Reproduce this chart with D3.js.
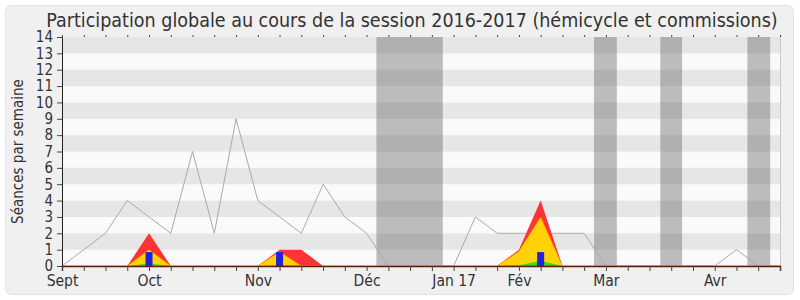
<!DOCTYPE html>
<html lang="fr">
<head>
<meta charset="UTF-8">
<title>Participation globale</title>
<script src="https://cdn.jsdelivr.net/npm/d3@7"></script>
<style>
  body { margin: 0; background: #fff; }
  text { font-family: "DejaVu Sans Condensed", "DejaVu Sans", sans-serif; font-stretch: condensed; fill: #333; }
</style>
</head>
<body>
<script>
// one value per week, from the first week of Sept 2016
const presence = [0,1,2,4,3,2,7,2,9,4,3,2,5,3,2,0,0,0,0,3,2,2,2,2,2,0,0,0,0,0,0,1,0,0]
const total    = [0,0,0,0,2,0,0,0,0,0,1,1,0,0,0,0,0,0,0,0,0,1,4,0,0,0,0,0,0,0,0,0,0,0]
const hemicycle= [0,0,0,0,1,0,0,0,0,0,0.87,0,0,0,0,0,0,0,0,0,0,0.9,3,0,0,0,0,0,0,0,0,0,0,0]
const commissions = [0,0,0,0,0.15,0,0,0,0,0,0.05,0.05,0,0,0,0,0,0,0,0,0,0.05,0.3,0,0,0,0,0,0,0,0,0,0,0]
const questions = [0,0,0,0,0.85,0,0,0,0,0,0.85,0,0,0,0,0,0,0,0,0,0,0,0.85,0,0,0,0,0,0,0,0,0,0,0]
const holidays = [[14.45,17.5],[24.45,25.5],[27.5,28.5],[31.5,32.55]]
const labelWeeks = [0,4,9,14,18,21,25,30]
const labelTexts = ["Sept","Oct","Nov","Déc","Jan 17","Fév","Mar","Avr"]
const yTicks = [0,1,2,3,4,5,6,7,8,9,10,11,12,13,14]

let width = 800
let height = 300
let pLeft = 62, pRight = 780, pTop = 37, pBottom = 266

let svg = d3.select("body").append("svg")
    .attr("width", width)
    .attr("height", height)

svg.append("rect")
    .attr("x", 5.5).attr("y", 5.5)
    .attr("width", 788).attr("height", 289)
    .attr("rx", 6)
    .attr("fill", "#f0f0f0")
    .attr("stroke", "#e2e2e2")

let x = d3.scaleLinear().domain([0, presence.length - 1]).range([pLeft, pRight])
let y = d3.scaleLinear().domain([0, 14]).range([pBottom, pTop])

// stripes
for (let v = 0; v < 14; v++) {
    svg.append("rect")
        .attr("x", pLeft).attr("width", pRight - pLeft)
        .attr("y", y(v + 1)).attr("height", y(v) - y(v + 1))
        .attr("fill", v % 2 == 1 ? "#e6e6e6" : "#fafafa")
}

// holidays
holidays.forEach(h => {
    svg.append("rect")
        .attr("x", x(h[0])).attr("width", x(h[1]) - x(h[0]))
        .attr("y", pTop).attr("height", pBottom - pTop)
        .attr("fill", "rgba(95,95,95,0.4)")
})

svg.append("line")
    .attr("x1", pRight + 0.5).attr("x2", pRight + 0.5)
    .attr("y1", pTop).attr("y2", pBottom)
    .attr("stroke", "#c8c8c8")

let line = d3.line().x((d, i) => x(i)).y(d => y(d))
svg.append("path")
    .attr("d", line(presence))
    .attr("fill", "none")
    .attr("stroke", "#aaaaaa")
    .attr("stroke-width", 1)

let area = d3.area().x((d, i) => x(i)).y0(y(0)).y1(d => y(d))
svg.append("path").attr("d", area(total)).attr("fill", "#ff3333")
svg.append("path").attr("d", area(hemicycle)).attr("fill", "#ffd20a")
    .attr("stroke", "#ff9900").attr("stroke-width", 0.5)
svg.append("path").attr("d", area(commissions)).attr("fill", "#33dd11")

questions.forEach((q, i) => {
    if (q > 0) {
        svg.append("rect")
            .attr("x", x(i) - 3.5).attr("width", 7)
            .attr("y", y(q)).attr("height", y(0) - y(q))
            .attr("fill", "#2222dd")
    }
})

// axes
let yAxis = svg.append("g")
    .attr("transform", "translate(" + pLeft + ",0)")
    .call(d3.axisLeft(y).tickValues(yTicks).tickSize(5).tickPadding(4))
yAxis.attr("font-family", null)
yAxis.selectAll("text").style("font-size", "15px").attr("fill", "#333")
yAxis.select(".domain").attr("stroke", "#222")
yAxis.selectAll(".tick line").attr("stroke", "#444")

let xAxis = svg.append("g")
    .attr("transform", "translate(0," + pBottom + ")")
    .call(d3.axisBottom(x).tickValues(d3.range(presence.length)).tickSize(5).tickPadding(4)
        .tickFormat(d => {
            let k = labelWeeks.indexOf(d)
            return k >= 0 ? labelTexts[k] : ""
        }))
xAxis.attr("font-family", null)
xAxis.selectAll("text").style("font-size", "15.5px").attr("fill", "#333")
xAxis.select(".domain").attr("stroke", "#5a1e08").attr("stroke-width", 1.5)
xAxis.selectAll(".tick line").attr("stroke", "#444")

let topAxis = svg.append("g")
    .attr("transform", "translate(0," + pTop + ")")
    .call(d3.axisTop(x).tickValues(d3.range(presence.length)).tickSize(2).tickFormat(""))
topAxis.select(".domain").remove()
topAxis.selectAll(".tick line").attr("stroke", "#444")

svg.append("text")
    .attr("x", 412).attr("y", 27)
    .attr("text-anchor", "middle")
    .style("font-size", "19.5px")
    .text("Participation globale au cours de la session 2016-2017 (hémicycle et commissions)")

svg.append("text")
    .attr("transform", "translate(23," + ((pTop + pBottom) / 2) + ") rotate(-90)")
    .attr("text-anchor", "middle")
    .style("font-size", "15px")
    .text("Séances par semaine")
</script>
</body>
</html>
